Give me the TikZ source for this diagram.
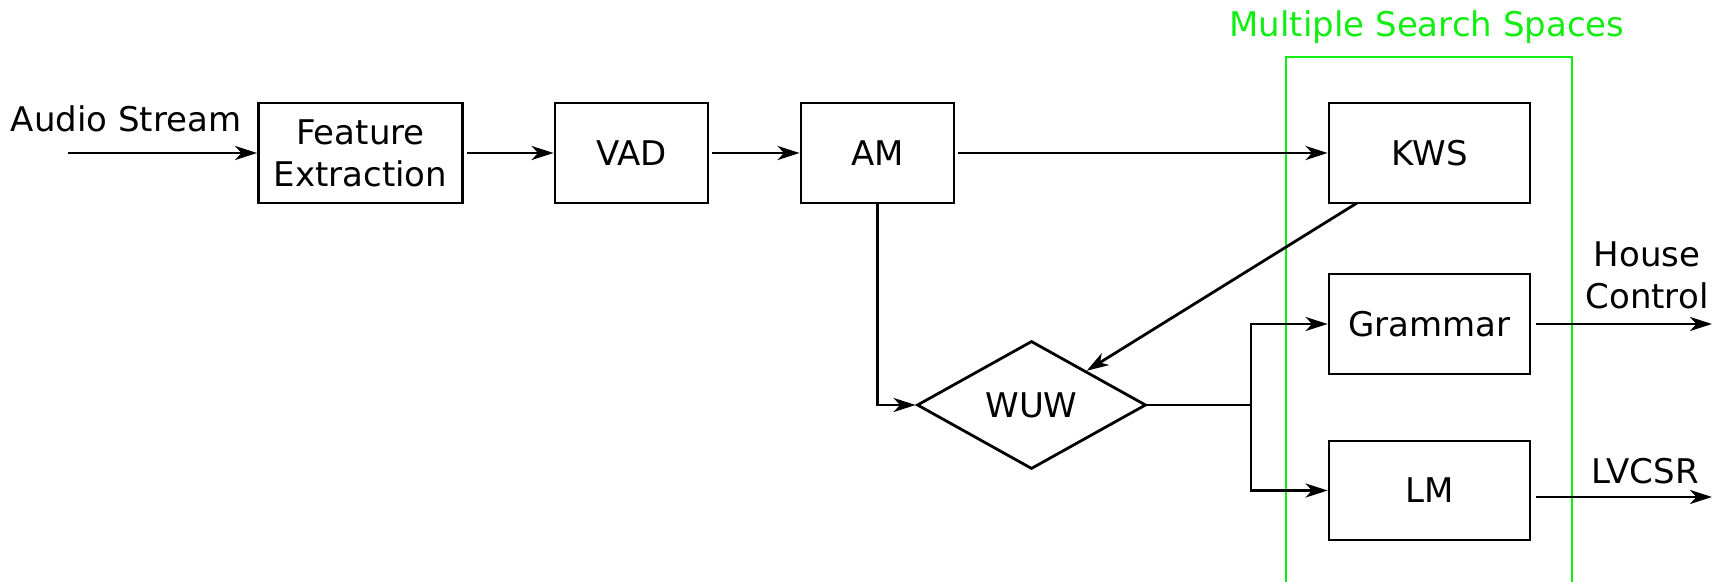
\documentclass[tikz,border=0pt]{standalone}
\usepackage{fontspec}
\setmainfont{DejaVu Sans}
\usepackage{tikz}
\usepackage{xcolor}
\usetikzlibrary{arrows.meta,positioning,shapes.geometric}
\definecolor{ink}{HTML}{000000}
\definecolor{spacegreen}{HTML}{11EE11}
\tikzset{
  blockbox/.style={
    draw=ink, line width=1.4pt, rectangle,
    inner sep=0pt, minimum height=50pt,
    align=center, font=\fontsize{17}{21}\selectfont
  },
  wuwdiamond/.style={
    draw=ink, line width=1.4pt, diamond,
    inner sep=0pt, minimum width=114.5pt, minimum height=64pt,
    font=\fontsize{17}{21}\selectfont
  },
  flowlabel/.style={
    align=center, inner sep=0pt, font=\fontsize{17}{21}\selectfont
  },
  searchbox/.style={draw=spacegreen, line width=1.1pt},
  flow/.style={draw=ink, line width=1.4pt}
}

\begin{document}
\begin{tikzpicture}[x=0.5pt,y=-0.5pt,>={Stealth[length=11pt,width=7pt,inset=3.2pt]}]
  \useasboundingbox (0,0) rectangle (1719,582);
  % search space frame
  \draw[searchbox] (1286,57) rectangle (1572,590);
  \node[flowlabel,text=spacegreen] (spaces) at (1427,27) {Multiple Search Spaces};

  % blocks
  \node[flowlabel] (audio) at (126,119) {Audio Stream};
  \node[blockbox,minimum width=102pt] (feat) at (360.5,153) {Feature\\Extraction};
  \node[blockbox,minimum width=76.5pt] (vad) at (631.5,153) {VAD};
  \node[blockbox,minimum width=76.5pt] (am) at (877.5,153) {AM};
  \node[blockbox,minimum width=100.5pt] (kws) at (1429.5,153) {KWS};
  \node[blockbox,minimum width=100.5pt] (gram) at (1429.5,324) {Grammar};
  \node[blockbox,minimum width=100.5pt,minimum height=49.5pt] (lm) at (1429.5,490.5) {LM};
  \node[wuwdiamond] (wuw) at (1031.5,405) {WUW};
  \node[flowlabel] (house) at (1647,275) {House\\Control};
  \node[flowlabel] (lvcsr) at (1645,471) {LVCSR};

  \coordinate (audioin) at (68,153);
  \coordinate (kwsfoot) at (1357,203);
  \coordinate (split) at (1251,405);
  \coordinate (hcout) at (1712,324);
  \coordinate (lvout) at (1712,497);

  % connectors
  \draw[flow,->] (audioin) -- (feat);
  \draw[flow,->,shorten <=1.5pt] (feat) -- (vad);
  \draw[flow,->,shorten <=1.5pt] (vad) -- (am);
  \draw[flow,->,shorten <=1.5pt] (am) -- (kws);
  \draw[flow,->] (am.south) |- (wuw.west);
  \draw[flow,->] (kwsfoot) -- (wuw);
  \draw[flow] (wuw.east) -- (split);
  \draw[flow,->] (split) |- (gram.west);
  \draw[flow,->] (split) |- (lm.west);
  \draw[flow,->,shorten <=2.5pt] (gram.east) -- (hcout);
  \draw[flow,->,shorten <=2.5pt] (lm.east |- lvout) -- (lvout);
\end{tikzpicture}
\end{document}
